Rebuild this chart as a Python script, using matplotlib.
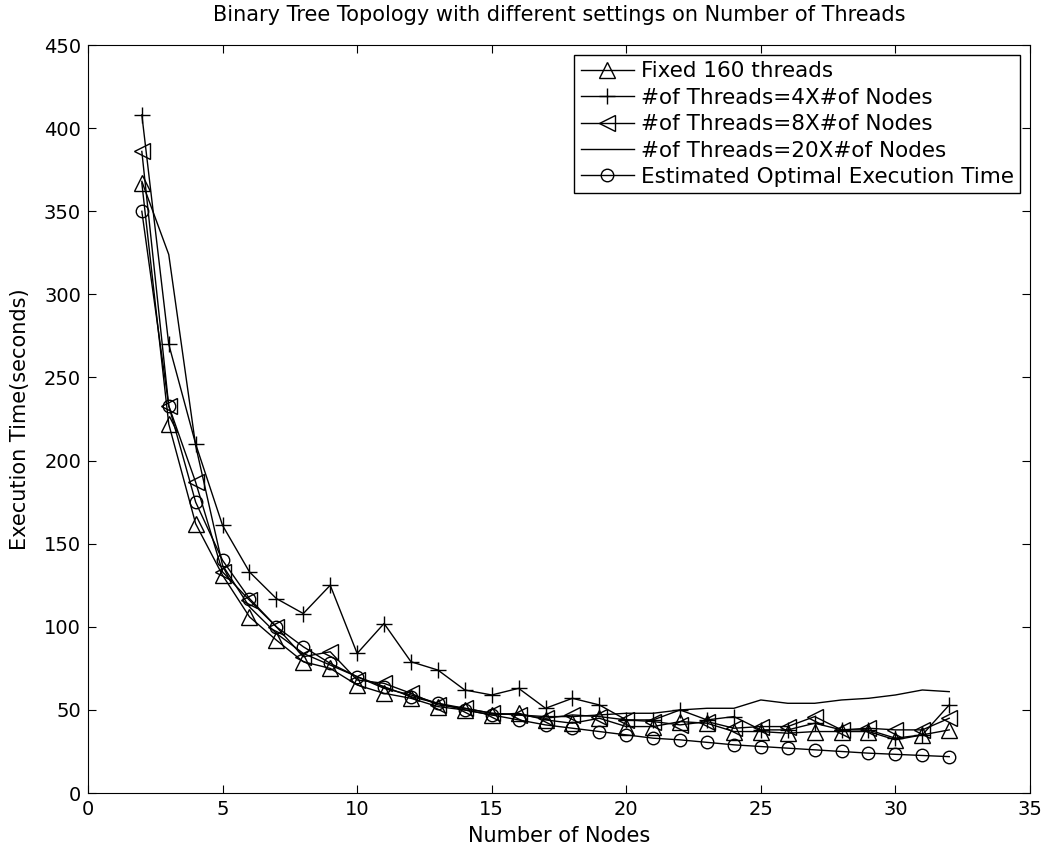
import matplotlib
matplotlib.use('Agg')
import matplotlib.pyplot as plt

plt.rcParams['font.family'] = ['DejaVu Sans']

# Number of nodes
nodes = list(range(2, 33))

# Execution time (seconds)
fixed_160 = [367, 222, 162, 131, 106, 92, 79, 75, 65, 60, 57, 52, 50, 47, 48, 44,
             42, 45, 40, 40, 43, 42, 37, 37, 36, 37, 37, 37, 32, 35, 38]
threads_4x = [408, 270, 210, 161, 133, 117, 108, 125, 84, 102, 79, 74, 62, 59, 63, 51,
              57, 53, 44, 44, 50, 44, 46, 38, 38, 42, 38, 38, 33, 35, 53]
threads_8x = [386, 233, 187, 133, 116, 100, 82, 85, 68, 66, 60, 53, 51, 48, 47, 45,
              47, 46, 44, 43, 41, 43, 39, 40, 40, 46, 38, 39, 38, 38, 45]
threads_20x = [368, 324, 209, 137, 112, 96, 84, 77, 70, 63, 59, 54, 51, 48, 47, 46,
               46, 47, 48, 48, 50, 51, 51, 56, 54, 54, 56, 57, 59, 62, 61]
estimated = [350, 233, 175, 140, 117, 100, 88, 78, 70, 64, 58, 54, 50, 47, 44, 41,
             39, 37, 35, 33, 32, 30.5, 29, 28, 27, 26, 25, 24, 23.3, 22.6, 21.9]

fig = plt.figure(figsize=(10.54, 8.5), dpi=100)
ax = fig.add_axes([0.0835, 0.067, 0.8937, 0.88])

common = dict(color='black', linewidth=1.0, markerfacecolor='none',
              markeredgecolor='black', markeredgewidth=1.0)

ax.plot(nodes, fixed_160, marker='^', markersize=11, label='Fixed 160 threads', **common)
ax.plot(nodes, threads_4x, marker='+', markersize=12, label='#of Threads=4X#of Nodes', **common)
ax.plot(nodes, threads_8x, marker='<', markersize=11, label='#of Threads=8X#of Nodes', **common)
ax.plot(nodes, threads_20x, label='#of Threads=20X#of Nodes', color='black', linewidth=1.0)
ax.plot(nodes, estimated, marker='o', markersize=9, label='Estimated Optimal Execution Time', **common)

ax.set_xlim(0, 35)
ax.set_ylim(0, 450)
ax.set_xticks(range(0, 36, 5))
ax.set_yticks(range(0, 451, 50))
ax.tick_params(direction='in', top=True, right=True, labelsize=14, length=6, pad=5)

ax.set_xlabel('Number of Nodes', fontsize=15, labelpad=5)
ax.set_ylabel('Execution Time(seconds)', fontsize=15, labelpad=10)
ax.set_title('Binary Tree Topology with different settings on Number of Threads',
             fontsize=15, pad=17)

leg = ax.legend(loc='upper right', fontsize=15.5, fancybox=False, edgecolor='black',
                framealpha=1, borderaxespad=0.45, handlelength=2.5, labelspacing=0.3,
                handletextpad=0.3, borderpad=0.3)
leg.get_frame().set_linewidth(1.0)

fig.savefig('out.png', dpi=100)
